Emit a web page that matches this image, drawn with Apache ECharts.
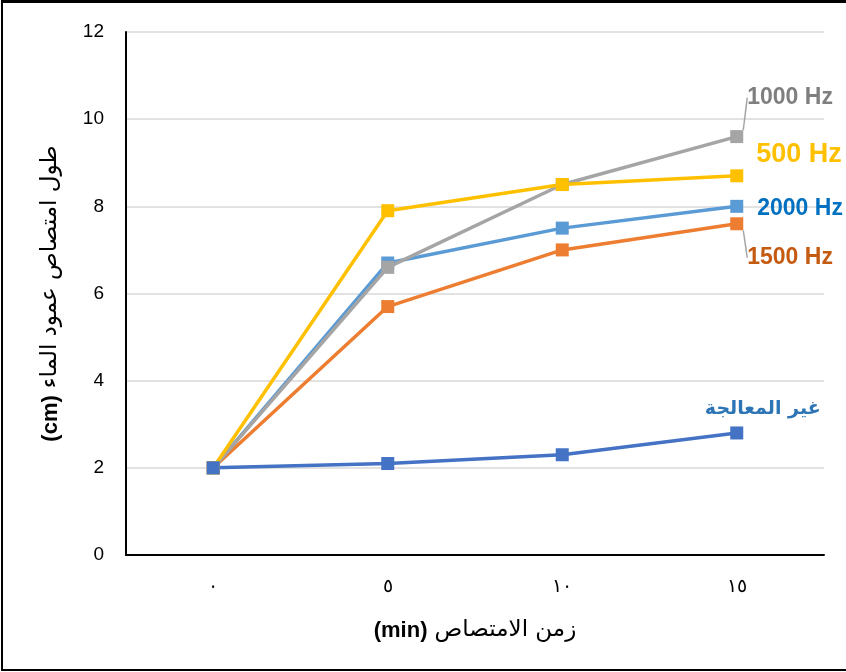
<!DOCTYPE html>
<html>
<head>
<meta charset="utf-8">
<script src="https://cdn.jsdelivr.net/npm/echarts@6/dist/echarts.min.js"></script>
<style>
html,body{margin:0;padding:0;background:#fff;}
#wrap{position:relative;width:846px;height:672px;}
#chart{position:absolute;left:0;top:0;width:846px;height:672px;}
#frame{position:absolute;left:1px;top:0;width:846px;height:671px;border-top:3px solid #000;border-left:2px solid #000;border-bottom:2px solid #000;box-sizing:border-box;pointer-events:none;}
</style>
</head>
<body>
<div id="wrap"><div id="chart"></div><div id="frame"></div></div>
<script>
const categories = ['٠', '٥', '١٠', '١٥'];
const untreated = [2.0, 2.1, 2.3, 2.8];
const hz500 = [2.0, 7.9, 8.5, 8.7];
const hz1000 = [2.0, 6.6, 8.5, 9.6];
const hz1500 = [2.0, 5.7, 7.0, 7.6];
const hz2000 = [2.0, 6.7, 7.5, 8.0];

const FONT = '"Liberation Sans", Arial, sans-serif';
const AR = '"DejaVu Sans", "Noto Sans", sans-serif';

function build(name, values, color, labelText, labelColor, labelOpts) {
  const data = values.map((v, i) => {
    if (i === values.length - 1) {
      return {
        value: v,
        label: Object.assign({
          show: true,
          formatter: labelText,
          color: labelColor,
          fontWeight: 'bold',
          fontFamily: FONT
        }, labelOpts.label)
      };
    }
    return v;
  });
  return {
    name: name,
    type: 'line',
    data: data,
    symbol: 'rect',
    symbolSize: 13,
    lineStyle: { color: color, width: 3.5 },
    itemStyle: { color: color },
    labelLayout: labelOpts.layout,
    labelLine: { show: !!labelOpts.line, lineStyle: { color: '#A5A5A5', width: 1.5 } },
    emphasis: { disabled: true },
    animation: false
  };
}

const chart = echarts.init(document.getElementById('chart'), null, { renderer: 'canvas' });
chart.setOption({
  animation: false,
  grid: { left: 126, right: 22, top: 32, bottom: 117 },
  xAxis: {
    type: 'category',
    data: categories,
    boundaryGap: true,
    axisLine: { show: true, lineStyle: { color: '#000', width: 2 } },
    axisTick: { show: false },
    axisLabel: { color: '#000', fontSize: 19, fontFamily: FONT, margin: 22 },
    name: '{b|(min)}{n|زمن الامتصاص}',
    nameLocation: 'middle',
    nameGap: 64,
    nameTextStyle: {
      rich: {
        b: { fontSize: 22, fontWeight: 'bold', color: '#000', fontFamily: FONT, padding: [0, 7, 0, 0] },
        n: { fontSize: 23, color: '#000', fontFamily: AR }
      }
    }
  },
  yAxis: {
    type: 'value',
    min: 0,
    max: 12,
    interval: 2,
    axisLine: { show: true, lineStyle: { color: '#000', width: 2 } },
    axisTick: { show: false },
    splitLine: { show: true, lineStyle: { color: '#D9D9D9', width: 1.5 } },
    axisLabel: { color: '#000', fontSize: 19, fontFamily: FONT, margin: 22 },
    name: '{b|(cm)}{n|طول امتصاص عمود الماء}',
    nameLocation: 'middle',
    nameGap: 64,
    nameRotate: 90,
    nameTextStyle: {
      rich: {
        b: { fontSize: 22, fontWeight: 'bold', color: '#000', fontFamily: FONT, padding: [0, 7, 0, 0] },
        n: { fontSize: 23, color: '#000', fontFamily: AR }
      }
    }
  },
  series: [
    build('1500 Hz', hz1500, '#ED7D31', '1500 Hz', '#C55A11',
      { label: { position: 'right', fontSize: 23, distance: 4 }, layout: { dx: 0, dy: 34 }, line: true }),
    build('2000 Hz', hz2000, '#5B9BD5', '2000 Hz', '#0070C0',
      { label: { position: 'right', fontSize: 23, distance: 14 }, layout: { dx: 0, dy: 2 } }),
    build('1000 Hz', hz1000, '#A5A5A5', '1000 Hz', '#7F7F7F',
      { label: { position: 'right', fontSize: 23, distance: 4 }, layout: { dx: 0, dy: -39 }, line: true }),
    build('500 Hz', hz500, '#FFC000', '500 Hz', '#FFC000',
      { label: { position: 'right', fontSize: 27, distance: 13 }, layout: { dx: 0, dy: -21 } }),
    build('غير المعالجة', untreated, '#4472C4', 'غير المعالجة', '#2E75B6',
      { label: { position: 'top', fontSize: 19, distance: 8, fontFamily: AR }, layout: { dx: 26, dy: 0 } })
  ]
});
</script>
</body>
</html>
